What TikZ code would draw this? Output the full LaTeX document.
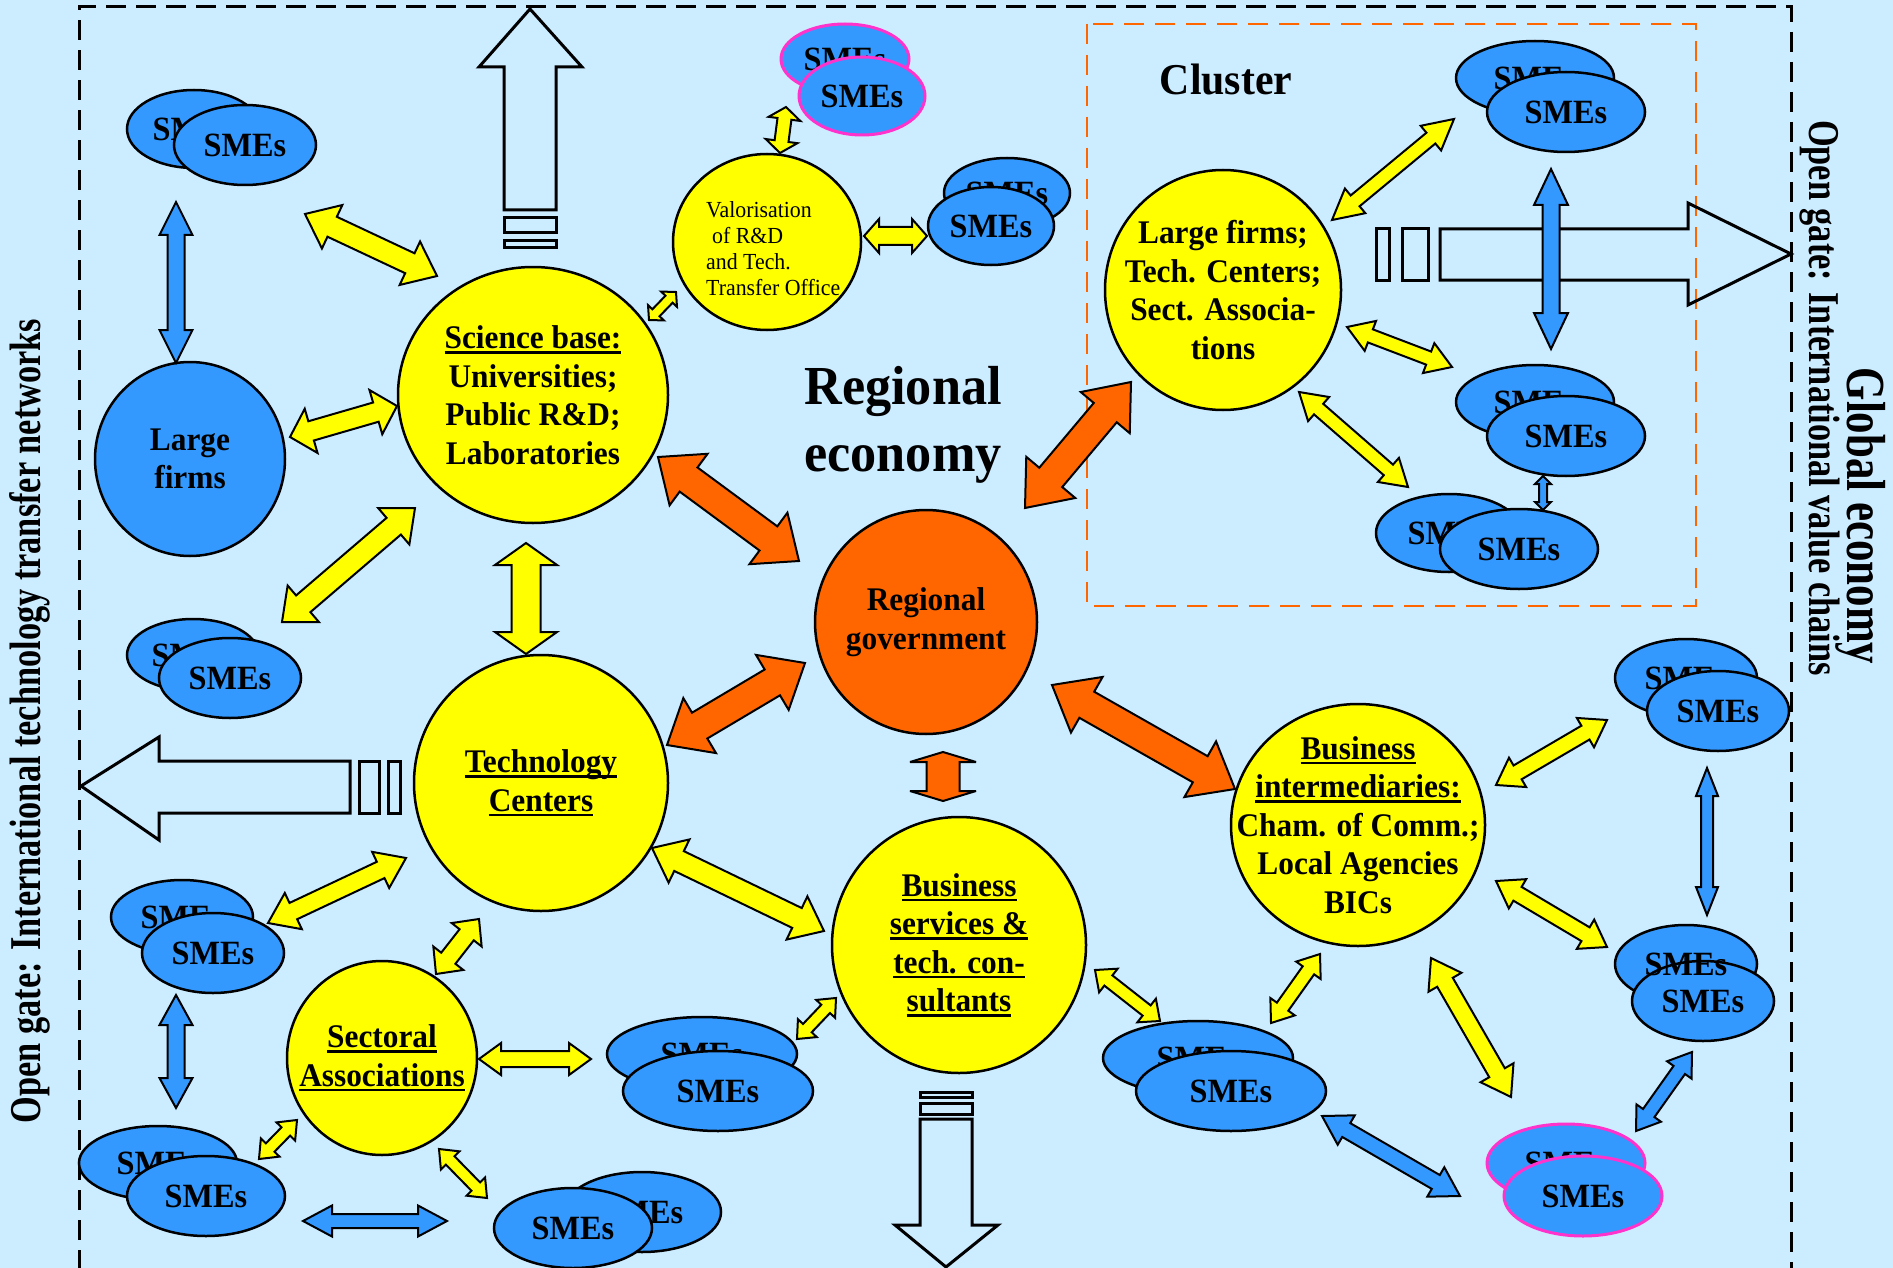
\documentclass[tikz,border=0pt]{standalone}
\usepackage{fontspec}
\setmainfont{Liberation Serif}
\newfontfamily\fin[FakeStretch=0.95]{Liberation Serif}
\newfontfamily\fcond[FakeStretch=0.78]{Liberation Serif}
\usetikzlibrary{shapes.geometric,calc}
\definecolor{bg}{HTML}{CCECFF}
\definecolor{smeblue}{HTML}{3399FF}
\definecolor{yel}{HTML}{FFFF00}
\definecolor{org}{HTML}{FF6600}
\definecolor{pnk}{HTML}{FF33CC}
\newcommand\ul[1]{\leavevmode\setbox0=\hbox{#1}\rlap{\rule[-5pt]{\wd0}{2.5pt}}\box0}
% double block arrow: style, from, to, shaft half width, head half width, head length
\newcommand\dblarrow[6]{%
  \coordinate (bA) at #2; \coordinate (bB) at #3;
  \coordinate (bH) at ($(bA)!#6pt!(bB)$);
  \coordinate (bK) at ($(bB)!#6pt!(bA)$);
  \draw[#1] (bA) -- ($(bH)!#5pt!90:(bB)$) -- ($(bH)!#4pt!90:(bB)$) -- ($(bK)!#4pt!-90:(bA)$) -- ($(bK)!#5pt!-90:(bA)$) -- (bB) -- ($(bK)!#5pt!90:(bA)$) -- ($(bK)!#4pt!90:(bA)$) -- ($(bH)!#4pt!-90:(bB)$) -- ($(bH)!#5pt!-90:(bB)$) -- cycle;}
\tikzset{
  ell/.style={ellipse, draw, line width=2.5, inner sep=0},
  sme/.style={ell, fill=smeblue, font=\fin\bfseries\fontsize{34}{38}\selectfont},
  psme/.style={sme, draw=pnk, line width=3},
  lbl/.style={align=center, font=\fin\bfseries\fontsize{33}{38.5}\selectfont, inner sep=0},
  yA/.style={draw, line width=2, fill=yel, line join=miter, miter limit=4},
  oA/.style={yA, fill=org},
  bA/.style={yA, fill=smeblue},
  oline/.style={draw, line width=3, line join=miter},
}
\begin{document}
\begin{tikzpicture}[x=1pt,y=-1pt]
\fill[bg] (0,0) rectangle (1893,1268);
\useasboundingbox (0,0) rectangle (1893,1268);
\clip (0,0) rectangle (1893,1268);
% frames
\draw[black, line width=3, dash pattern=on 20pt off 10pt] (79,1300) -- (79,7) -- (1791,7) -- (1791,1300);
\draw[org, line width=2.5, dash pattern=on 20pt off 11pt] (1087,24) rectangle (1696,606);
% outline gate arrows
\draw[oline] (530,9) -- (582,67) -- (556,67) -- (556,210) -- (504,210) -- (504,67) -- (479,67) -- cycle;
\draw[oline] (504,218) rectangle (556,233) (504,241) rectangle (556,248);
\draw[oline] (1791,254) -- (1688,203) -- (1688,229) -- (1440,229) -- (1440,280) -- (1688,280) -- (1688,305) -- cycle;
\draw[oline] (1402,229) rectangle (1428,280) (1376,229) rectangle (1389,280);
\draw[oline] (81,786) -- (159,737) -- (159,761) -- (350,761) -- (350,813) -- (159,813) -- (159,840) -- cycle;
\draw[oline] (359,761) rectangle (379,813) (388,761) rectangle (400,813);
\draw[oline] (946,1267) -- (998,1225) -- (972,1225) -- (972,1119) -- (920,1119) -- (920,1225) -- (895,1225) -- cycle;
\draw[oline] (920,1103) rectangle (972,1114) (920,1092) rectangle (972,1097);
% main bubbles
\node[ell, fill=yel, minimum width=270, minimum height=256] (sci) at (533,395) {};
\node[lbl] at (sci) {\ul{Science base:}\\Universities;\\Public R\&D;\\Laboratories};
\node[ell, fill=smeblue, minimum width=190, minimum height=194] (large) at (190,459) {};
\node[lbl] at (large) {Large\\firms};
\node[ell, fill=yel, minimum width=188, minimum height=176] (val) at (767,242) {};
\node[anchor=west, align=left, font=\fin\fontsize{23}{26}\selectfont, inner sep=0] at (706,249) {Valorisation\\\hspace*{6pt}of R\&D\\and Tech.\\Transfer Office};
\node[ell, fill=org, minimum width=222, minimum height=224] (gov) at (926,622) {};
\node[lbl] at (gov) {Regional\\government};
\node[ell, fill=yel, minimum width=236, minimum height=240] (clu) at (1223,290) {};
\node[lbl] at (clu) {Large firms;\\Tech. Centers;\\Sect. Associa-\\tions};
\node[ell, fill=yel, minimum width=254, minimum height=256] (tech) at (541,783) {};
\node[lbl] at (tech) {\ul{Technology}\\\ul{Centers}};
\node[ell, fill=yel, minimum width=190, minimum height=194] (sect) at (382,1058) {};
\node[lbl] at (sect) {\ul{Sectoral}\\\ul{Associations}};
\node[ell, fill=yel, minimum width=254, minimum height=256] (bserv) at (959,945) {};
\node[lbl] at (bserv) {\ul{Business}\\\ul{services \&}\\\ul{tech. con-}\\\ul{sultants}};
\node[ell, fill=yel, minimum width=254, minimum height=242] (bint) at (1358,825) {};
\node[lbl] at (bint) {\ul{Business}\\\ul{intermediaries:}\\Cham. of Comm.;\\Local Agencies\\BICs};
% SMEs pairs
\node[sme, minimum width=134, minimum height=78] (s1b) at (194,129) {SMEs};
\node[sme, minimum width=142, minimum height=80] (s1) at (245,145) {SMEs};
\node[psme, minimum width=128, minimum height=70] (p1b) at (845,59) {SMEs};
\node[psme, minimum width=126, minimum height=78] (p1) at (862,96) {SMEs};
\node[sme, minimum width=126, minimum height=70] (sVb) at (1007,193) {SMEs};
\node[sme, minimum width=126, minimum height=78] (sV) at (991,226) {SMEs};
\node[sme, minimum width=158, minimum height=74] (sTRb) at (1535,78) {SMEs};
\node[sme, minimum width=158, minimum height=80] (sTR) at (1566,112) {SMEs};
\node[sme, minimum width=158, minimum height=74] (sMRb) at (1535,402) {SMEs};
\node[sme, minimum width=158, minimum height=80] (sMR) at (1566,436) {SMEs};
\node[sme, minimum width=146, minimum height=78] (sBtb) at (1449,533) {SMEs};
\node[sme, minimum width=158, minimum height=80] (sBt) at (1519,549) {SMEs};
\node[sme, minimum width=132, minimum height=72] (sL1b) at (193,655) {SMEs};
\node[sme, minimum width=142, minimum height=80] (sL1) at (230,678) {SMEs};
\node[sme, minimum width=142, minimum height=74] (sL2b) at (182,917) {SMEs};
\node[sme, minimum width=142, minimum height=80] (sL2) at (213,953) {SMEs};
\node[sme, minimum width=190, minimum height=74] (sMb) at (702,1054) {SMEs};
\node[sme, minimum width=190, minimum height=80] (sM) at (718,1091) {SMEs};
\node[sme, minimum width=158, minimum height=74] (sBLb) at (158,1163) {SMEs};
\node[sme, minimum width=158, minimum height=80] (sBL) at (206,1196) {SMEs};
\node[sme, minimum width=158, minimum height=80] (sBCb) at (642,1212) {SMEs};
\node[sme, minimum width=158, minimum height=80] (sBC) at (573,1228) {SMEs};
\node[sme, minimum width=142, minimum height=78] (sR1b) at (1686,678) {SMEs};
\node[sme, minimum width=142, minimum height=80] (sR1) at (1718,711) {SMEs};
\node[sme, minimum width=142, minimum height=78] (sR2b) at (1686,964) {};
\node[sme, minimum width=142, minimum height=80] (sR2) at (1703,1001) {SMEs};
\node[font=\fin\bfseries\fontsize{34}{38}\selectfont, inner sep=0] at (sR2b) {SMEs};
\node[psme, minimum width=158, minimum height=78] (p2b) at (1566,1163) {SMEs};
\node[psme, minimum width=158, minimum height=80] (p2) at (1583,1196) {SMEs};
\node[sme, minimum width=190, minimum height=74] (sM2b) at (1198,1058) {SMEs};
\node[sme, minimum width=190, minimum height=80] (sM2) at (1231,1091) {SMEs};
% titles
\node[font=\fin\bfseries\fontsize{55}{67}\selectfont, align=center, inner sep=0] (reco) at (903,425) {Regional\\economy};
\node[font=\fin\bfseries\fontsize{44}{50}\selectfont, inner sep=0] (clt) at (1226,80) {Cluster};
\node[rotate=90, font=\fcond\bfseries\fontsize{44}{50}\selectfont, inner sep=0] (og1) at (30,721) {Open gate: International technology transfer networks};
\node[rotate=-90, font=\fcond\bfseries\fontsize{55}{60}\selectfont, inner sep=0] (ge) at (1861,516) {Global economy};
\node[rotate=-90, font=\fcond\bfseries\fontsize{44}{50}\selectfont, inner sep=0] (og2) at (1820,398) {Open gate: International value chains};
% yellow arrows
\dblarrow{yA}{(305,214)}{(437,276)}{11}{24}{30}
\dblarrow{yA}{(290,437)}{(397,406)}{10}{23}{22}
\dblarrow{yA}{(282,622)}{(415,508)}{11}{24}{28}
\dblarrow{yA}{(526,543)}{(526,654)}{14.5}{31}{22}
\dblarrow{yA}{(649,320)}{(676,292)}{5}{11}{10}
\dblarrow{yA}{(780,153)}{(786,107)}{7}{16}{12}
\dblarrow{yA}{(864,236)}{(927,236)}{9}{17}{15}
\dblarrow{yA}{(1332,220)}{(1454,119)}{7}{16}{30}
\dblarrow{yA}{(1347,327)}{(1452,367)}{7}{16}{25}
\dblarrow{yA}{(1299,392)}{(1408,487)}{7}{16}{26}
\dblarrow{yA}{(268,923)}{(406,858)}{9}{20}{28}
\dblarrow{yA}{(436,974)}{(479,919)}{9}{19}{20}
\dblarrow{yA}{(479,1059)}{(591,1059)}{8}{16}{22}
\dblarrow{yA}{(259,1159)}{(297,1120)}{6}{13}{16}
\dblarrow{yA}{(439,1149)}{(487,1198)}{6}{13}{16}
\dblarrow{yA}{(652,848)}{(824,931)}{11}{24}{30}
\dblarrow{yA}{(797,1039)}{(836,998)}{6}{13}{15}
\dblarrow{yA}{(1095,970)}{(1160,1021)}{6.5}{15}{17}
\dblarrow{yA}{(1271,1023)}{(1320,954)}{7}{15}{20}
\dblarrow{yA}{(1496,785)}{(1607,720)}{8}{17}{25}
\dblarrow{yA}{(1496,881)}{(1607,947)}{8}{17}{25}
\dblarrow{yA}{(1431,958)}{(1511,1097)}{9}{19}{28}
% orange arrows
\dblarrow{oA}{(658,457)}{(799,561)}{15}{32}{38}
\dblarrow{oA}{(1131,382)}{(1025,508)}{15}{32}{40}
\dblarrow{oA}{(667,745)}{(805,663)}{15}{32}{38}
\dblarrow{oA}{(1052,685)}{(1235,789)}{15}{32}{40}
\dblarrow{oA}{(943,752)}{(943,801)}{16.5}{33}{10}
% blue arrows
\dblarrow{bA}{(176,202)}{(176,363)}{8.5}{16.5}{33}
\dblarrow{bA}{(1551,169)}{(1551,349)}{8.5}{17}{36}
\dblarrow{bA}{(1543,476)}{(1543,510)}{4}{8}{8}
\dblarrow{bA}{(176,995)}{(176,1108)}{8.5}{16.5}{30}
\dblarrow{bA}{(303,1221)}{(447,1221)}{7}{15.5}{29}
\dblarrow{bA}{(1707,768)}{(1707,915)}{6}{11}{28}
\dblarrow{bA}{(1692,1052)}{(1636,1131)}{7}{15}{22}
\dblarrow{bA}{(1322,1116)}{(1460,1196)}{8}{17}{28}
\end{tikzpicture}
\end{document}
